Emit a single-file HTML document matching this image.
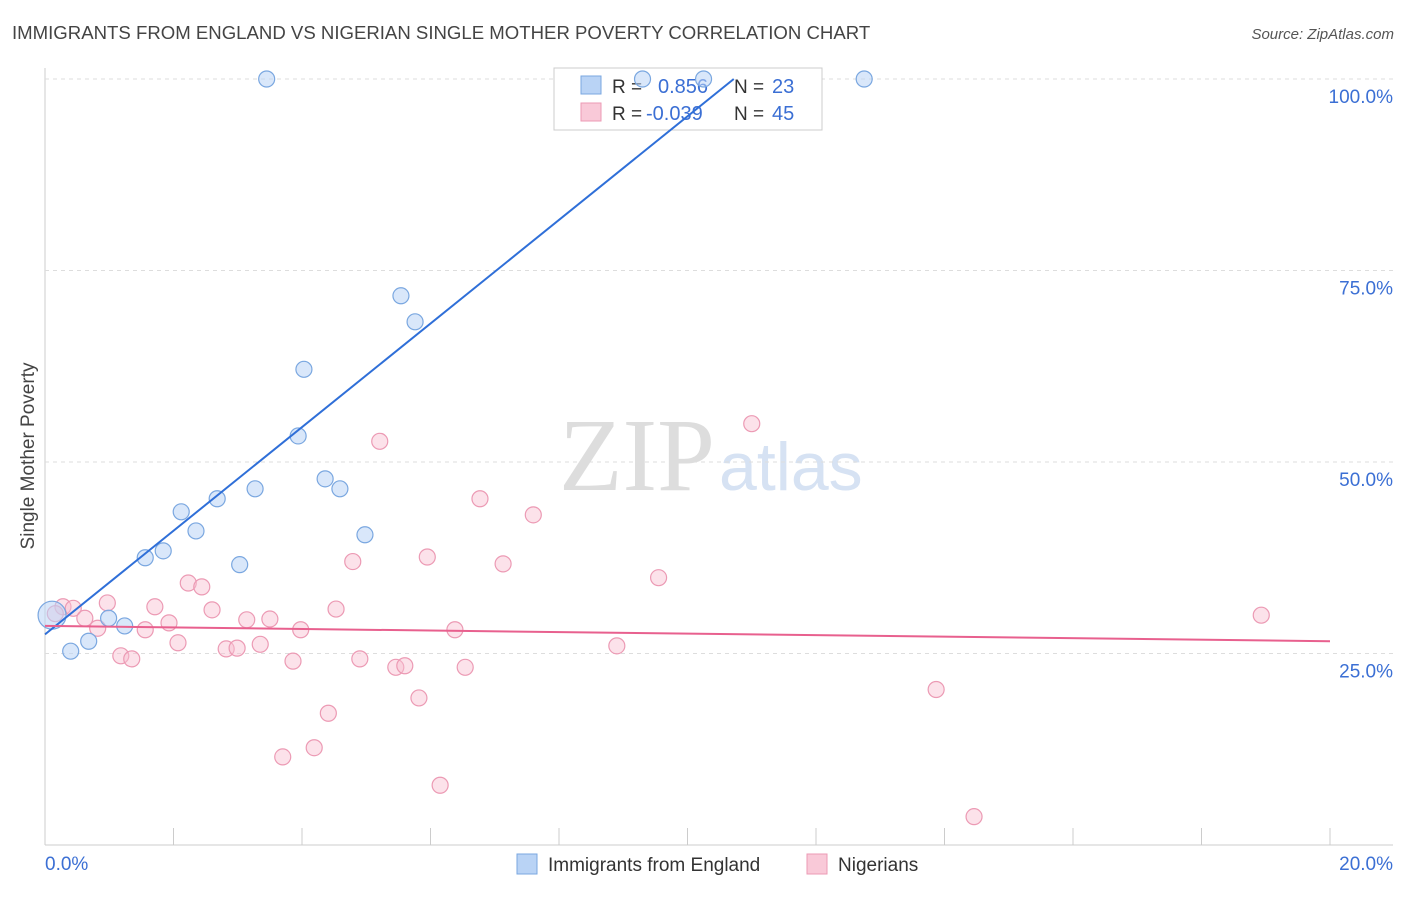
<!DOCTYPE html>
<html><head><meta charset="utf-8"><style>
body{margin:0;background:#fff;font-family:"Liberation Sans",sans-serif;}
</style></head><body>
<svg id="chart" width="1406" height="892" xmlns="http://www.w3.org/2000/svg" font-family="Liberation Sans, sans-serif">
<text x="12" y="39" font-size="18.6" fill="#444">IMMIGRANTS FROM ENGLAND VS NIGERIAN SINGLE MOTHER POVERTY CORRELATION CHART</text>
<text x="1394" y="39" font-size="15" fill="#555" text-anchor="end" font-style="italic">Source: ZipAtlas.com</text>
<text transform="translate(34,456) rotate(-90)" font-size="19" fill="#444" text-anchor="middle">Single Mother Poverty</text>
<text x="715" y="490" font-size="104" text-anchor="end" fill="#ddd" font-family="Liberation Serif, serif">ZIP</text>
<text x="719" y="490" font-size="68" fill="#d6e2f3">atlas</text>
<g id="grid"></g>
<g>
<rect x="554" y="68" width="268" height="62" fill="#fff" stroke="#ccc"/>
<rect x="581" y="76" width="20" height="18" fill="#b9d3f5" stroke="#7aa7e0"/>
<rect x="581" y="103" width="20" height="18" fill="#f9c9d8" stroke="#ec9ab4"/>
<text x="612" y="93" font-size="19" fill="#333">R =</text><text x="658" y="93" font-size="20" fill="#3b6fd4">0.856</text>
<text x="734" y="93" font-size="19" fill="#333">N =</text><text x="772" y="93" font-size="20" fill="#3b6fd4">23</text>
<text x="612" y="120" font-size="19" fill="#333">R =</text><text x="646" y="120" font-size="20" fill="#3b6fd4">-0.039</text>
<text x="734" y="120" font-size="19" fill="#333">N =</text><text x="772" y="120" font-size="20" fill="#3b6fd4">45</text>
</g>
<g id="pts"></g><g id="lines"></g>
<g>
<rect x="517" y="854" width="20" height="20" fill="#b9d3f5" stroke="#7aa7e0"/>
<text x="548" y="871" font-size="19" fill="#333">Immigrants from England</text>
<rect x="807" y="854" width="20" height="20" fill="#f9c9d8" stroke="#ec9ab4"/>
<text x="838" y="871" font-size="19" fill="#333">Nigerians</text>
</g>
</svg>
<script>
const yTicks=[25,50,75,100];
const xTickLabels=["0.0%","20.0%"];
const englandX=[3.45,9.3,10.25,12.75,5.54,5.76,4.03,3.94,4.36,4.59,3.27,2.68,2.12,2.35,4.98,1.84,1.56,3.03,0.99,1.24,0.68,0.4,0.11];
const englandY=[100,100,100,100,71.7,68.3,62.1,53.4,47.8,46.5,46.5,45.2,43.5,41.0,40.5,38.4,37.5,36.6,29.6,28.6,26.6,25.3,30.0];
const nigeriaX=[0.28,0.44,0.62,0.82,0.97,1.18,1.35,1.56,1.71,1.93,2.07,2.23,2.44,2.6,2.82,2.99,3.14,3.35,3.5,3.7,3.86,3.98,4.19,4.41,4.53,4.79,4.9,5.21,5.46,5.6,5.82,5.95,6.15,6.38,6.54,6.77,7.13,7.6,8.9,9.55,11.0,13.87,14.46,18.93,0.16];
const nigeriaY=[31.1,30.9,29.6,28.3,31.6,24.7,24.3,28.1,31.1,29.0,26.4,34.2,33.7,30.7,25.6,25.7,29.4,26.2,29.5,11.5,24.0,28.1,12.7,17.2,30.8,37.0,24.3,52.7,23.2,23.4,19.2,37.6,7.8,28.1,23.2,45.2,36.7,43.1,26.0,34.9,55.0,20.3,3.7,30.0,30.2];
const engSize=[8,8,8,8,8,8,8,8,8,8,8,8,8,8,8,8,8,8,8,8,8,8,14];
const X0=45,X1=1330,Y0=845,Y100=79;
const xs=v=>X0+(v/20)*(X1-X0);
const ys=v=>Y0-(v/100)*(Y0-Y100);
const NS="http://www.w3.org/2000/svg";
function mk(t,a,p){const e=document.createElementNS(NS,t);for(const k in a)e.setAttribute(k,a[k]);p.appendChild(e);return e;}
const grid=document.getElementById('grid');
mk('line',{x1:X0,y1:68,x2:X0,y2:Y0,stroke:'#ccc'},grid);
mk('line',{x1:X0,y1:Y0,x2:1393,y2:Y0,stroke:'#ccc'},grid);
yTicks.forEach(t=>{
 const l=mk('line',{x1:X0,y1:ys(t),x2:1393,y2:ys(t),stroke:'#ddd','stroke-dasharray':'4,4'},grid);
 
 
 const tx=mk('text',{x:1393,y:ys(t)+24,'font-size':19,fill:'#3b6fd4','text-anchor':'end'},grid);
 tx.textContent=t.toFixed(1)+'%';
 
 
});
for(let i=0;i<=10;i++){
 const tk=mk('line',{x1:xs(i*2),y1:i==0?Y0:828,x2:xs(i*2),y2:Y0,stroke:'#ccc'},grid);
 
 
}
const xl0=mk('text',{x:45,y:870,'font-size':19,fill:'#3b6fd4'},grid);xl0.textContent=xTickLabels[0];


const xl1=mk('text',{x:1393,y:870,'font-size':19,fill:'#3b6fd4','text-anchor':'end'},grid);xl1.textContent=xTickLabels[1];


const pts=document.getElementById('pts');
nigeriaX.forEach((x,i)=>{
 const c=mk('circle',{cx:xs(x),cy:ys(nigeriaY[i]),r:8,fill:'rgba(249,190,208,0.45)',stroke:'#ec9ab4','stroke-width':1.2},pts);
 
 
});
englandX.forEach((x,i)=>{
 const c=mk('circle',{cx:xs(x),cy:ys(englandY[i]),r:engSize[i],fill:'rgba(185,211,245,0.55)',stroke:'#7aa7e0','stroke-width':1.2},pts);
 
 
});
const lines=document.getElementById('lines');
const bl=mk('line',{x1:xs(0),y1:ys(27.5),x2:xs(10.72),y2:ys(100),stroke:'#2f6fd8','stroke-width':2},lines);


const pl=mk('line',{x1:xs(0),y1:ys(28.6),x2:xs(20),y2:ys(26.6),stroke:'#e8608e','stroke-width':2},lines);


</script>
</body></html>
